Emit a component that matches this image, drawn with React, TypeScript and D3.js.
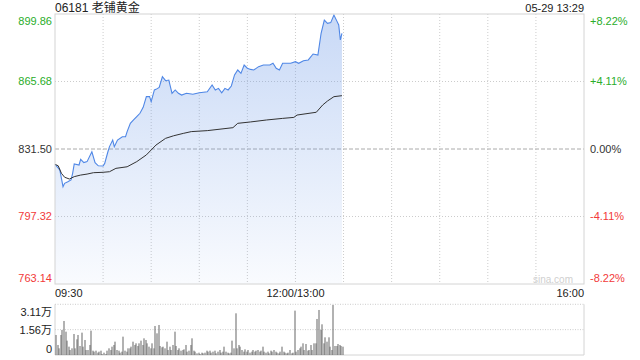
import React from "react";
import * as d3 from "d3";

const title = "06181 老铺黄金";
const stamp = "05-29 13:29";
const priceTicks = [899.86, 865.68, 831.5, 797.32, 763.14];
const pctTicks = ["+8.22%", "+4.11%", "0.00%", "-4.11%", "-8.22%"];
const tickColors = ["#2aad2a", "#2aad2a", "#333333", "#f23a3a", "#f23a3a"];
const timeLabels = ["09:30", "12:00/13:00", "16:00"];
const volTickLabels = ["3.11万", "1.56万", "0"];
const volTicks = [31100, 15550, 0];

const priceTimes = [
  "09:30","09:33","09:35","09:36","09:38","09:40","09:41","09:42","09:45","09:46","09:48","09:50","09:53","09:55","09:57",
  "10:00","10:01","10:03","10:04","10:06","10:07","10:09","10:12","10:14","10:15","10:17","10:19","10:21","10:23","10:25",
  "10:27","10:29","10:30","10:32","10:33","10:35","10:37","10:39","10:41","10:43","10:45","10:47","10:49","10:52","10:56",
  "11:00","11:05","11:08","11:10","11:12","11:14","11:16","11:18","11:20","11:22","11:24","11:26","11:28","11:30","11:32",
  "11:34","11:37","11:40","11:44","11:46","11:48","11:50","11:52","11:57","13:00","13:02","13:05","13:08","13:11","13:14",
  "13:16","13:18","13:20","13:22","13:24","13:26","13:27","13:28","13:29"
];
const prices = [
  823.75,820.86,812.4,814.1,814.9,815.8,819.2,823.9,823.4,826.3,824.6,825.1,830.1,824.6,823.0,
  822.9,824.2,830.1,832.7,836.0,832.7,836.0,837.7,837.7,840.3,844.5,846.2,847.9,849.6,852.6,
  858.0,858.0,855.5,861.4,861.7,862.7,868.1,866.1,866.4,859.7,861.4,859.7,858.8,859.7,859.2,
  860.0,860.5,863.9,861.4,862.2,860.0,862.2,861.4,863.4,869.0,871.5,869.8,874.0,872.4,871.8,
  871.5,873.2,874.0,874.0,874.9,872.4,871.5,874.9,874.9,875.7,874.9,876.2,876.6,879.6,879.1,
  890.1,896.8,895.1,895.5,899.3,896.0,894.3,886.7,890.1
];

const avgTimes = [
  "09:30","09:32","09:34","09:36","09:39","09:42","09:46","09:50","09:54","10:00","10:04","10:08","10:15","10:21","10:27",
  "10:30","10:33","10:39","10:44","10:50","10:55","11:05","11:21","11:24","11:32","11:42","11:52","11:59","13:01","13:13",
  "13:17","13:20","13:24","13:29"
];
const avgPrices = [
  823.75,823.0,819.2,817.2,816.3,817.5,818.3,818.8,819.5,819.7,820.0,821.7,822.5,825.1,828.5,
  831.0,833.5,836.9,838.2,839.4,840.3,840.8,842.3,844.5,845.2,846.2,847.0,847.5,848.7,850.1,
  853.8,855.8,858.0,858.5
];

// per-minute volume from 09:30
const volumes = [
  12276,6138,4092,12276,15345,20869,14322,8798,5115,3069,4092,12890,4092,9616,12276,5524,13708,5115,9207,3069,
  3069,6138,14936,2660,2046,2660,1432,
  2046,2660,614,1432,614,2660,4092,3069,5115,
  6138,8184,3069,2660,1432,2046,11253,2660,2046,
  4092,4092,5115,8184,6138,7161,5524,7161,8798,6138,
  10230,9207,7161,5115,4092,7161,4092,17800,13299,18414,
  5524,4706,5115,4092,8184,3069,5115,3069,6138,14322,
  5524,3069,4092,2660,3069,3478,6138,2046,2660,6138,
  10230,2660,2046,1023,1432,614,1432,1023,1432,
  2660,2046,2660,1432,2046,2660,1023,2046,3069,1432,
  2046,5115,2046,1432,1023,1432,8798,4092,25575,4092,
  6138,5115,3069,2046,3478,2046,3069,1432,2046,3069,
  2046,2660,3069,2046,2660,5115,2046,1432,2046,1023,
  2660,2046,3069,2046,1432,1023,2046,5115,2046,1432,
  1023,1432,3069,1023,1432,27212,2046,3069,4092,
  5115,7161,3069,6752,2660,3069,6138,
  3069,7161,7161,22097,27621,15345,18823,7161,10844,8184,
  10844,5115,3069,30690,5524,5524,6752,6138,5524,5115
];

const toMin = (t: string) => {
  const [h, m] = t.split(":").map(Number);
  const mins = h * 60 + m;
  if (mins <= 720) return mins - 570;
  return 150 + (mins - 780);
};

const L = 55, R = 584, T = 14, B = 284;
const VT = 304.3, VB = 355;
const FONT = "'Liberation Sans', Arial, 'Noto Sans CJK SC', sans-serif";

export default function App() {
  const x = d3.scaleLinear().domain([0, 330]).range([L, R]);
  const y = d3.scaleLinear().domain([763.14, 899.86]).range([B, T]);
  const yv = d3.scaleLinear().domain([0, 31100]).range([VB, VT]);

  const pData = priceTimes.map((t, i) => ({ m: toMin(t), p: prices[i] }));
  const aData = avgTimes.map((t, i) => ({ m: toMin(t), p: avgPrices[i] }));

  const line = d3.line<{ m: number; p: number }>().x((d) => x(d.m)).y((d) => y(d.p));
  const area = d3.area<{ m: number; p: number }>().x((d) => x(d.m)).y0(B).y1((d) => y(d.p));

  const vGrid = d3.range(1, 11).map((k) => x(k * 30));
  const labelY = [T + 7, y(priceTicks[1]), y(priceTicks[2]), y(priceTicks[3]), B - 6];
  const volLabelY = [VT + 8, yv(volTicks[1]), VB - 6];

  return (
    <svg width={640} height={360} style={{ position: "absolute", left: 0, top: 0, background: "#fff" }} fontFamily={FONT}>
      <defs>
        <linearGradient id="fillg" gradientUnits="userSpaceOnUse" x1={0} y1={T} x2={0} y2={B}>
          <stop offset="0%" stopColor="#6f9be8" stopOpacity={0.38} />
          <stop offset="100%" stopColor="#6f9be8" stopOpacity={0.04} />
        </linearGradient>
      </defs>
      <text x={L} y={12} fontSize={12} fill="#222">{title}</text>
      <text x={R} y={12} fontSize={11} fill="#222" textAnchor="end">{stamp}</text>

      {/* grid */}
      {vGrid.map((gx, i) => (
        <line key={"vg" + i} x1={gx} x2={gx} y1={T} y2={B} stroke="#ccc" strokeDasharray="1,2" />
      ))}
      {[1, 3].map((k) => (
        <line key={"hg" + k} x1={L} x2={R} y1={y(priceTicks[k])} y2={y(priceTicks[k])} stroke="#ccc" strokeDasharray="1,2" />
      ))}
      <line x1={L} x2={R} y1={y(priceTicks[2])} y2={y(priceTicks[2])} stroke="#aaa" strokeDasharray="4,2" />

      <path d={area(pData) || ""} fill="url(#fillg)" />
      <path d={line(pData) || ""} fill="none" stroke="#4f87e6" strokeWidth={1.1} />
      <path d={line(aData) || ""} fill="none" stroke="#333" strokeWidth={1} />

      <rect x={L} y={T} width={R - L} height={B - T} fill="none" stroke="#d4d4d4" />

      <text x={573} y={283} fontSize={10} fill="#cfcfcf" textAnchor="end">sina.com</text>

      {priceTicks.map((p, i) => (
        <text key={"pl" + i} x={52} y={labelY[i]} dy="0.35em" fontSize={11} fill={tickColors[i]} textAnchor="end">
          {p.toFixed(2)}
        </text>
      ))}
      {pctTicks.map((p, i) => (
        <text key={"pr" + i} x={590} y={labelY[i]} dy="0.35em" fontSize={11} fill={tickColors[i]}>
          {p}
        </text>
      ))}

      <text x={L} y={293} dy="0.35em" fontSize={11} fill="#222">{timeLabels[0]}</text>
      <text x={x(150)} y={293} dy="0.35em" fontSize={11} fill="#222" textAnchor="middle">{timeLabels[1]}</text>
      <text x={R} y={293} dy="0.35em" fontSize={11} fill="#222" textAnchor="end">{timeLabels[2]}</text>

      {/* volume */}
      <line x1={L} x2={R} y1={yv(volTicks[0])} y2={yv(volTicks[0])} stroke="#ccc" strokeDasharray="1,1.5" />
      <line x1={L} x2={R} y1={yv(volTicks[1])} y2={yv(volTicks[1])} stroke="#ccc" strokeDasharray="1,1.5" />
      <line x1={L} x2={L} y1={VT} y2={VB} stroke="#d4d4d4" />
      <line x1={R} x2={R} y1={VT} y2={VB} stroke="#d4d4d4" />
      <line x1={L} x2={R} y1={VB} y2={VB} stroke="#d4d4d4" />
      {volumes.map((v, i) => (
        <rect key={"vb" + i} x={Math.round(x(i)) + 0.5} y={yv(v)} width={1} height={VB - yv(v)} fill="#666" />
      ))}
      {volTickLabels.map((t, i) => (
        <text key={"vl" + i} x={52} y={volLabelY[i]} dy="0.35em" fontSize={11} fill="#222" textAnchor="end">
          {t}
        </text>
      ))}
    </svg>
  );
}
